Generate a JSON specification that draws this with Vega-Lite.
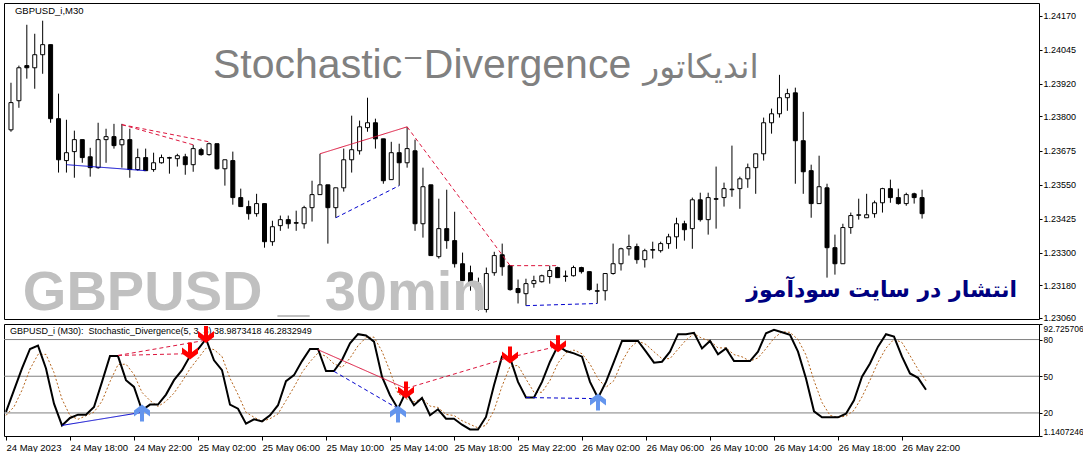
{
  "$schema": "https://vega.github.io/schema/vega-lite/v6.json",
  "background": "white",
  "padding": {"left": 1, "top": 2, "right": 0, "bottom": 0},
  "bounds": "flush",
  "spacing": 5,
  "config": {
    "view": {"stroke": "black", "strokeWidth": 1},
    "axis": {"labelFont": "Liberation Sans", "labelColor": "black", "tickColor": "black", "domain": false, "grid": false, "labelOverlap": false}
  },
  "datasets": {
    "candles": [
      {"t":"2023-05-24T14:00","o":1.23751,"h":1.23924,"l":1.23744,"c":1.23851,"k":20.8,"d":18},
      {"t":"2023-05-24T14:30","o":1.23858,"h":1.23987,"l":1.23832,"c":1.23979,"k":38.6,"d":25},
      {"t":"2023-05-24T15:00","o":1.23987,"h":1.24137,"l":1.23939,"c":1.23979,"k":56.4,"d":38.6},
      {"t":"2023-05-24T15:30","o":1.23979,"h":1.24104,"l":1.23902,"c":1.24027,"k":72.3,"d":55.8},
      {"t":"2023-05-24T16:00","o":1.24027,"h":1.24152,"l":1.23957,"c":1.24064,"k":75,"d":67.9},
      {"t":"2023-05-24T16:30","o":1.24064,"h":1.24064,"l":1.23777,"c":1.23792,"k":56.4,"d":67.9},
      {"t":"2023-05-24T17:00","o":1.23792,"h":1.23884,"l":1.23594,"c":1.23641,"k":27.6,"d":53},
      {"t":"2023-05-24T17:30","o":1.23638,"h":1.23788,"l":1.23594,"c":1.23667,"k":9.8,"d":31.3},
      {"t":"2023-05-24T18:00","o":1.23671,"h":1.23748,"l":1.23575,"c":1.23715,"k":15.9,"d":17.8},
      {"t":"2023-05-24T18:30","o":1.23715,"h":1.23715,"l":1.2363,"c":1.23649,"k":18.6,"d":14.8},
      {"t":"2023-05-24T19:00","o":1.23652,"h":1.23685,"l":1.23579,"c":1.23612,"k":18.6,"d":17.7},
      {"t":"2023-05-24T19:30","o":1.23612,"h":1.23777,"l":1.23608,"c":1.23715,"k":24.9,"d":20.7},
      {"t":"2023-05-24T20:00","o":1.23715,"h":1.23755,"l":1.2363,"c":1.23726,"k":45.4,"d":29.6},
      {"t":"2023-05-24T20:30","o":1.23726,"h":1.23773,"l":1.23682,"c":1.23693,"k":66.5,"d":45.6},
      {"t":"2023-05-24T21:00","o":1.23696,"h":1.23773,"l":1.23612,"c":1.23715,"k":66.5,"d":59.5},
      {"t":"2023-05-24T21:30","o":1.23715,"h":1.23755,"l":1.23575,"c":1.23605,"k":46.8,"d":59.9},
      {"t":"2023-05-24T22:00","o":1.23605,"h":1.23682,"l":1.23601,"c":1.23649,"k":41.3,"d":51.5},
      {"t":"2023-05-24T22:30","o":1.23649,"h":1.23682,"l":1.23601,"c":1.23601,"k":22.2,"d":36.8},
      {"t":"2023-05-24T23:00","o":1.23605,"h":1.23667,"l":1.23597,"c":1.2363,"k":26.8,"d":30.1},
      {"t":"2023-05-24T23:30","o":1.2363,"h":1.2366,"l":1.23627,"c":1.23649,"k":26.8,"d":25.3},
      {"t":"2023-05-25T00:00","o":1.23649,"h":1.23652,"l":1.2359,"c":1.23647,"k":35,"d":29.5},
      {"t":"2023-05-25T00:30","o":1.23645,"h":1.23663,"l":1.23616,"c":1.23656,"k":46.8,"d":36.2},
      {"t":"2023-05-25T01:00","o":1.23652,"h":1.23663,"l":1.23586,"c":1.23623,"k":55,"d":45.6},
      {"t":"2023-05-25T01:30","o":1.23623,"h":1.23696,"l":1.23597,"c":1.23682,"k":66.5,"d":56.1},
      {"t":"2023-05-25T02:00","o":1.23678,"h":1.23685,"l":1.23656,"c":1.2366,"k":72,"d":64.5},
      {"t":"2023-05-25T02:30","o":1.2366,"h":1.23704,"l":1.23656,"c":1.237,"k":80.5,"d":73},
      {"t":"2023-05-25T03:00","o":1.237,"h":1.237,"l":1.23605,"c":1.23608,"k":63,"d":71.8},
      {"t":"2023-05-25T03:30","o":1.23608,"h":1.23641,"l":1.23546,"c":1.23641,"k":55,"d":66.2},
      {"t":"2023-05-25T04:00","o":1.23638,"h":1.23671,"l":1.23476,"c":1.23502,"k":26.8,"d":48.3},
      {"t":"2023-05-25T04:30","o":1.23502,"h":1.23535,"l":1.23469,"c":1.23469,"k":23.5,"d":35.1},
      {"t":"2023-05-25T05:00","o":1.23469,"h":1.23491,"l":1.23421,"c":1.23443,"k":11.2,"d":20.5},
      {"t":"2023-05-25T05:30","o":1.23443,"h":1.23516,"l":1.23432,"c":1.2348,"k":14.8,"d":16.5},
      {"t":"2023-05-25T06:00","o":1.2348,"h":1.2348,"l":1.23318,"c":1.2334,"k":13.1,"d":13},
      {"t":"2023-05-25T06:30","o":1.2334,"h":1.23417,"l":1.23325,"c":1.23395,"k":18.1,"d":15.3},
      {"t":"2023-05-25T07:00","o":1.23399,"h":1.23436,"l":1.2338,"c":1.23421,"k":26.3,"d":19.2},
      {"t":"2023-05-25T07:30","o":1.23421,"h":1.23436,"l":1.23388,"c":1.23406,"k":46,"d":30.1},
      {"t":"2023-05-25T08:00","o":1.2341,"h":1.23454,"l":1.2338,"c":1.23408,"k":50.9,"d":41.1},
      {"t":"2023-05-25T08:30","o":1.23406,"h":1.23472,"l":1.23388,"c":1.23465,"k":62.4,"d":53.1},
      {"t":"2023-05-25T09:00","o":1.23465,"h":1.23564,"l":1.23414,"c":1.23513,"k":72.3,"d":61.9},
      {"t":"2023-05-25T09:30","o":1.23513,"h":1.23663,"l":1.23513,"c":1.23549,"k":72.3,"d":69},
      {"t":"2023-05-25T10:00","o":1.23549,"h":1.23549,"l":1.23333,"c":1.23465,"k":54.2,"d":66.3},
      {"t":"2023-05-25T10:30","o":1.23465,"h":1.23538,"l":1.23428,"c":1.23538,"k":54.2,"d":60.2},
      {"t":"2023-05-25T11:00","o":1.23538,"h":1.23682,"l":1.23524,"c":1.23641,"k":63.3,"d":57.2},
      {"t":"2023-05-25T11:30","o":1.23641,"h":1.23803,"l":1.23594,"c":1.23678,"k":77,"d":64.8},
      {"t":"2023-05-25T12:00","o":1.23674,"h":1.23785,"l":1.2366,"c":1.23762,"k":84.4,"d":74.9},
      {"t":"2023-05-25T12:30","o":1.23759,"h":1.23869,"l":1.23744,"c":1.23777,"k":83.3,"d":81.6},
      {"t":"2023-05-25T13:00","o":1.23777,"h":1.23792,"l":1.23682,"c":1.23718,"k":78.3,"d":82},
      {"t":"2023-05-25T13:30","o":1.23718,"h":1.23718,"l":1.23553,"c":1.23564,"k":49.6,"d":70.4},
      {"t":"2023-05-25T14:00","o":1.23568,"h":1.23707,"l":1.23568,"c":1.23667,"k":34.5,"d":54.1},
      {"t":"2023-05-25T14:30","o":1.23667,"h":1.237,"l":1.23546,"c":1.2363,"k":23.5,"d":35.9},
      {"t":"2023-05-25T15:00","o":1.2363,"h":1.23762,"l":1.23612,"c":1.23682,"k":37.2,"d":31.7},
      {"t":"2023-05-25T15:30","o":1.23674,"h":1.23715,"l":1.2338,"c":1.23406,"k":26.3,"d":29},
      {"t":"2023-05-25T16:00","o":1.23406,"h":1.23612,"l":1.23355,"c":1.23542,"k":32.3,"d":31.9},
      {"t":"2023-05-25T16:30","o":1.23549,"h":1.23549,"l":1.23289,"c":1.23289,"k":18.1,"d":25.6},
      {"t":"2023-05-25T17:00","o":1.23285,"h":1.23498,"l":1.23278,"c":1.23388,"k":23,"d":24.5},
      {"t":"2023-05-25T17:30","o":1.23388,"h":1.23531,"l":1.23314,"c":1.23344,"k":15.3,"d":18.8},
      {"t":"2023-05-25T18:00","o":1.23344,"h":1.2345,"l":1.23245,"c":1.23259,"k":15.3,"d":17.9},
      {"t":"2023-05-25T18:30","o":1.23259,"h":1.233,"l":1.23179,"c":1.23197,"k":10.4,"d":13.7},
      {"t":"2023-05-25T19:00","o":1.23226,"h":1.23252,"l":1.2316,"c":1.23186,"k":6.5,"d":10.7},
      {"t":"2023-05-25T19:30","o":1.23186,"h":1.23208,"l":1.23087,"c":1.23094,"k":6.5,"d":7.8},
      {"t":"2023-05-25T20:00","o":1.23091,"h":1.23245,"l":1.2308,"c":1.23223,"k":16.7,"d":9.9},
      {"t":"2023-05-25T20:30","o":1.23226,"h":1.23303,"l":1.23215,"c":1.23289,"k":42.7,"d":22},
      {"t":"2023-05-25T21:00","o":1.23292,"h":1.23333,"l":1.23215,"c":1.23248,"k":66,"d":41.8},
      {"t":"2023-05-25T21:30","o":1.23252,"h":1.23252,"l":1.2316,"c":1.23164,"k":65.2,"d":58},
      {"t":"2023-05-25T22:00","o":1.23168,"h":1.23201,"l":1.23113,"c":1.23153,"k":45.4,"d":58.9},
      {"t":"2023-05-25T22:30","o":1.23149,"h":1.23204,"l":1.23105,"c":1.23186,"k":32.6,"d":47.7},
      {"t":"2023-05-25T23:00","o":1.23186,"h":1.23215,"l":1.23171,"c":1.23197,"k":32.6,"d":36.9},
      {"t":"2023-05-25T23:30","o":1.23193,"h":1.23219,"l":1.2319,"c":1.23215,"k":45.4,"d":36.9},
      {"t":"2023-05-26T00:00","o":1.23212,"h":1.23252,"l":1.23186,"c":1.23234,"k":61.9,"d":46.6},
      {"t":"2023-05-26T00:30","o":1.23245,"h":1.23248,"l":1.23208,"c":1.23208,"k":75,"d":60.8},
      {"t":"2023-05-26T01:00","o":1.23214,"h":1.23234,"l":1.23193,"c":1.23212,"k":70.6,"d":69.2},
      {"t":"2023-05-26T01:30","o":1.23215,"h":1.23252,"l":1.23212,"c":1.23245,"k":68.7,"d":71.4},
      {"t":"2023-05-26T02:00","o":1.23245,"h":1.23248,"l":1.23223,"c":1.2323,"k":66,"d":68.4},
      {"t":"2023-05-26T02:30","o":1.2323,"h":1.2323,"l":1.2316,"c":1.23164,"k":45.4,"d":60},
      {"t":"2023-05-26T03:00","o":1.2316,"h":1.23186,"l":1.23113,"c":1.23158,"k":32.3,"d":47.9},
      {"t":"2023-05-26T03:30","o":1.2316,"h":1.23223,"l":1.23124,"c":1.23223,"k":45.4,"d":41},
      {"t":"2023-05-26T04:00","o":1.23223,"h":1.23333,"l":1.23219,"c":1.23259,"k":61.9,"d":46.5},
      {"t":"2023-05-26T04:30","o":1.23259,"h":1.23318,"l":1.23234,"c":1.23314,"k":78.9,"d":62.1},
      {"t":"2023-05-26T05:00","o":1.23314,"h":1.23366,"l":1.23289,"c":1.23322,"k":78.9,"d":73.2},
      {"t":"2023-05-26T05:30","o":1.23322,"h":1.23333,"l":1.23259,"c":1.23274,"k":78.9,"d":78.9},
      {"t":"2023-05-26T06:00","o":1.23274,"h":1.23314,"l":1.23245,"c":1.23307,"k":70.1,"d":76},
      {"t":"2023-05-26T06:30","o":1.23311,"h":1.2334,"l":1.23278,"c":1.23309,"k":61.1,"d":70},
      {"t":"2023-05-26T07:00","o":1.23307,"h":1.2334,"l":1.233,"c":1.23333,"k":61.9,"d":64.4},
      {"t":"2023-05-26T07:30","o":1.23333,"h":1.23369,"l":1.23314,"c":1.23358,"k":70.1,"d":64.4},
      {"t":"2023-05-26T08:00","o":1.23358,"h":1.23428,"l":1.23314,"c":1.23406,"k":84.4,"d":72.1},
      {"t":"2023-05-26T08:30","o":1.23406,"h":1.23417,"l":1.23344,"c":1.23384,"k":84.4,"d":79.6},
      {"t":"2023-05-26T09:00","o":1.23388,"h":1.23502,"l":1.23314,"c":1.23494,"k":85.5,"d":84.8},
      {"t":"2023-05-26T09:30","o":1.23494,"h":1.2352,"l":1.23414,"c":1.23421,"k":72.8,"d":80.9},
      {"t":"2023-05-26T10:00","o":1.23421,"h":1.2352,"l":1.23366,"c":1.23502,"k":78.9,"d":79.1},
      {"t":"2023-05-26T10:30","o":1.23498,"h":1.23616,"l":1.23388,"c":1.23496,"k":67.9,"d":73.2},
      {"t":"2023-05-26T11:00","o":1.23502,"h":1.23557,"l":1.23469,"c":1.23535,"k":72.8,"d":73.2},
      {"t":"2023-05-26T11:30","o":1.23531,"h":1.23693,"l":1.23505,"c":1.23533,"k":62.4,"d":67.7},
      {"t":"2023-05-26T12:00","o":1.23535,"h":1.23579,"l":1.23461,"c":1.23571,"k":62.4,"d":65.9},
      {"t":"2023-05-26T12:30","o":1.23571,"h":1.23627,"l":1.23538,"c":1.23612,"k":62.4,"d":62.4},
      {"t":"2023-05-26T13:00","o":1.23612,"h":1.23663,"l":1.23516,"c":1.23663,"k":70.1,"d":65},
      {"t":"2023-05-26T13:30","o":1.23663,"h":1.23796,"l":1.23638,"c":1.23777,"k":85.2,"d":72.6},
      {"t":"2023-05-26T14:00","o":1.23777,"h":1.23829,"l":1.23737,"c":1.2381,"k":87.9,"d":81.1},
      {"t":"2023-05-26T14:30","o":1.2381,"h":1.23953,"l":1.23796,"c":1.23869,"k":86,"d":86.4},
      {"t":"2023-05-26T15:00","o":1.23869,"h":1.23902,"l":1.23821,"c":1.23884,"k":83.8,"d":85.9},
      {"t":"2023-05-26T15:30","o":1.23887,"h":1.23906,"l":1.23553,"c":1.23711,"k":70.1,"d":80},
      {"t":"2023-05-26T16:00","o":1.23711,"h":1.23817,"l":1.23516,"c":1.23597,"k":48.2,"d":67.4},
      {"t":"2023-05-26T16:30","o":1.23601,"h":1.23623,"l":1.23428,"c":1.2348,"k":21.3,"d":46.5},
      {"t":"2023-05-26T17:00","o":1.2348,"h":1.23656,"l":1.2348,"c":1.23542,"k":16.4,"d":28.6},
      {"t":"2023-05-26T17:30","o":1.23538,"h":1.23553,"l":1.23208,"c":1.23318,"k":16.4,"d":18},
      {"t":"2023-05-26T18:00","o":1.23318,"h":1.23366,"l":1.23219,"c":1.23259,"k":16.4,"d":16.4},
      {"t":"2023-05-26T18:30","o":1.23259,"h":1.23406,"l":1.23259,"c":1.23392,"k":19.4,"d":17.4},
      {"t":"2023-05-26T19:00","o":1.23392,"h":1.23447,"l":1.23369,"c":1.23436,"k":30.4,"d":22.1},
      {"t":"2023-05-26T19:30","o":1.23437,"h":1.23498,"l":1.23421,"c":1.23439,"k":49.6,"d":33.1},
      {"t":"2023-05-26T20:00","o":1.23428,"h":1.23516,"l":1.23428,"c":1.23439,"k":60.5,"d":46.8},
      {"t":"2023-05-26T20:30","o":1.23443,"h":1.23491,"l":1.23428,"c":1.23483,"k":74.2,"d":61.4},
      {"t":"2023-05-26T21:00","o":1.23483,"h":1.23538,"l":1.23447,"c":1.23535,"k":84.4,"d":73},
      {"t":"2023-05-26T21:30","o":1.23535,"h":1.23568,"l":1.23483,"c":1.23502,"k":82.4,"d":80.3},
      {"t":"2023-05-26T22:00","o":1.23502,"h":1.23535,"l":1.23476,"c":1.2348,"k":66,"d":77.6},
      {"t":"2023-05-26T22:30","o":1.2348,"h":1.2352,"l":1.23472,"c":1.23513,"k":52.3,"d":66.9},
      {"t":"2023-05-26T23:00","o":1.23516,"h":1.2352,"l":1.2348,"c":1.23502,"k":48.7,"d":55.7},
      {"t":"2023-05-26T23:30","o":1.23502,"h":1.23531,"l":1.23425,"c":1.23443,"k":39,"d":46.3}
    ],
    "priceDiv": [
      {"id":"m1","side":"bull","kind":"regular","t":"2023-05-24T17:30","p":1.23623},
      {"id":"m1","side":"bull","kind":"regular","t":"2023-05-24T22:30","p":1.23601},
      {"id":"m2","side":"bear","kind":"hidden","t":"2023-05-24T21:00","p":1.2377},
      {"id":"m2","side":"bear","kind":"hidden","t":"2023-05-25T01:30","p":1.23696},
      {"id":"m3","side":"bear","kind":"hidden","t":"2023-05-24T21:00","p":1.2377},
      {"id":"m3","side":"bear","kind":"hidden","t":"2023-05-25T02:30","p":1.23707},
      {"id":"m4","side":"bear","kind":"regular","t":"2023-05-25T09:30","p":1.23663},
      {"id":"m4","side":"bear","kind":"regular","t":"2023-05-25T15:00","p":1.23762},
      {"id":"m5","side":"bull","kind":"hidden","t":"2023-05-25T10:30","p":1.23428},
      {"id":"m5","side":"bull","kind":"hidden","t":"2023-05-25T14:30","p":1.23546},
      {"id":"m6","side":"bear","kind":"hidden","t":"2023-05-25T15:00","p":1.23762},
      {"id":"m6","side":"bear","kind":"hidden","t":"2023-05-25T21:30","p":1.23252},
      {"id":"m7","side":"bear","kind":"hidden","t":"2023-05-25T21:30","p":1.23252},
      {"id":"m7","side":"bear","kind":"hidden","t":"2023-05-26T00:30","p":1.23252},
      {"id":"m8","side":"bull","kind":"hidden","t":"2023-05-25T22:30","p":1.23105},
      {"id":"m8","side":"bull","kind":"hidden","t":"2023-05-26T03:00","p":1.23113}
    ],
    "stochDiv": [
      {"id":"s1","side":"bull","kind":"regular","t":"2023-05-24T17:30","v":9.8},
      {"id":"s1","side":"bull","kind":"regular","t":"2023-05-24T22:30","v":20.5},
      {"id":"s2","side":"bear","kind":"hidden","t":"2023-05-24T21:00","v":67},
      {"id":"s2","side":"bear","kind":"hidden","t":"2023-05-25T01:30","v":68.5},
      {"id":"s3","side":"bear","kind":"hidden","t":"2023-05-24T21:00","v":67},
      {"id":"s3","side":"bear","kind":"hidden","t":"2023-05-25T02:30","v":79.5},
      {"id":"s4","side":"bear","kind":"regular","t":"2023-05-25T09:30","v":71.7},
      {"id":"s4","side":"bear","kind":"regular","t":"2023-05-25T15:00","v":40},
      {"id":"s5","side":"bull","kind":"hidden","t":"2023-05-25T10:30","v":54},
      {"id":"s5","side":"bull","kind":"hidden","t":"2023-05-25T14:30","v":23.5},
      {"id":"s6","side":"bear","kind":"hidden","t":"2023-05-25T15:00","v":40},
      {"id":"s6","side":"bear","kind":"hidden","t":"2023-05-25T21:30","v":65.5},
      {"id":"s7","side":"bear","kind":"hidden","t":"2023-05-25T21:30","v":65.5},
      {"id":"s7","side":"bear","kind":"hidden","t":"2023-05-26T00:30","v":74.5},
      {"id":"s8","side":"bull","kind":"hidden","t":"2023-05-25T22:30","v":32.6},
      {"id":"s8","side":"bull","kind":"hidden","t":"2023-05-26T03:00","v":31.7}
    ],
    "arrows": [
      {"t":"2023-05-24T22:30","v":26.8,"side":"bull"},
      {"t":"2023-05-25T01:30","v":63.7,"side":"bear"},
      {"t":"2023-05-25T02:30","v":77.2,"side":"bear"},
      {"t":"2023-05-25T14:30","v":26,"side":"bull"},
      {"t":"2023-05-25T15:00","v":31.8,"side":"bear"},
      {"t":"2023-05-25T21:30","v":60.5,"side":"bear"},
      {"t":"2023-05-26T00:30","v":69.6,"side":"bear"},
      {"t":"2023-05-26T03:00","v":35.9,"side":"bull"}
    ],
    "levels": [{"lvl":20},{"lvl":50},{"lvl":80}],
    "one": [{}]
  },
  "vconcat": [
    {
      "width": 1035,
      "height": 316,
      "layer": [
        {
          "data": {"name": "candles"},
          "mark": {"type": "rule", "color": "black", "strokeWidth": 1},
          "encoding": {
            "x": {"field": "t", "type": "temporal", "axis": null, "title": null,
                  "scale": {"domain": [{"year":2023,"month":5,"date":24,"hours":13,"minutes":52,"seconds":30},{"year":2023,"month":5,"date":27,"hours":6,"minutes":33,"seconds":45}]}},
            "y": {"field": "l", "type": "quantitative", "title": null,
                  "scale": {"domain": [1.23056, 1.24217], "zero": false, "nice": false},
                  "axis": {"orient": "right", "values": [1.2417, 1.24045, 1.2392, 1.238, 1.23675, 1.2355, 1.23425, 1.233, 1.2318, 1.2306],
                           "tickCount": 50, "format": ".5f", "labelFontSize": 9, "tickSize": 3, "labelPadding": 1, "labelOverlap": false}},
            "y2": {"field": "h"}
          }
        },
        {
          "data": {"name": "candles"},
          "mark": {"type": "bar", "width": 4, "stroke": "black", "strokeWidth": 1},
          "encoding": {
            "x": {"field": "t", "type": "temporal", "axis": null, "title": null},
            "y": {"field": "o", "type": "quantitative", "title": null},
            "y2": {"field": "c"},
            "fill": {"condition": {"test": "datum.c < datum.o", "value": "black"}, "value": "white"}
          }
        },
        {
          "data": {"name": "priceDiv"},
          "mark": {"type": "line", "strokeWidth": 1},
          "encoding": {
            "x": {"field": "t", "type": "temporal", "axis": null, "title": null},
            "y": {"field": "p", "type": "quantitative", "title": null},
            "detail": {"field": "id"},
            "stroke": {"field": "side", "type": "nominal", "legend": null, "scale": {"domain": ["bear", "bull"], "range": ["#dc143c", "#0000cd"]}},
            "strokeDash": {"field": "kind", "type": "nominal", "legend": null, "scale": {"domain": ["regular", "hidden"], "range": [[1, 0], [4, 3]]}}
          }
        },
        {
          "data": {"name": "one"},
          "mark": {"type": "text", "text": "GBPUSD_i,M30", "align": "left", "baseline": "middle", "font": "Liberation Sans", "fontSize": 9.5, "color": "black"},
          "encoding": {
            "x": {"datum": {"year":2023,"month":5,"date":24,"hours":14,"minutes":15}, "type": "temporal", "axis": null},
            "y": {"datum": 1.24188, "type": "quantitative"}
          }
        },
        {
          "data": {"name": "one"},
          "mark": {"type": "text", "text": "Stochastic⁻Divergence", "align": "left", "baseline": "alphabetic", "font": "Liberation Sans, DejaVu Sans", "fontSize": 41, "color": "#808080"},
          "encoding": {
            "x": {"datum": {"year":2023,"month":5,"date":25,"hours":2,"minutes":45}, "type": "temporal", "axis": null},
            "y": {"datum": 1.23942, "type": "quantitative"}
          }
        },
        {
          "data": {"name": "one"},
          "mark": {"type": "text", "text": "اندیکاتور", "align": "right", "baseline": "alphabetic", "font": "DejaVu Sans", "fontSize": 33, "color": "#808080"},
          "encoding": {
            "x": {"datum": {"year":2023,"month":5,"date":26,"hours":13,"minutes":11,"seconds":15}, "type": "temporal", "axis": null},
            "y": {"datum": 1.23942, "type": "quantitative"}
          }
        },
        {
          "data": {"name": "one"},
          "mark": {"type": "text", "text": "GBPUSD _ 30min", "align": "left", "baseline": "alphabetic", "font": "Liberation Sans", "fontWeight": "bold", "fontSize": 56, "color": "#c0c0c0"},
          "encoding": {
            "x": {"datum": {"year":2023,"month":5,"date":24,"hours":14,"minutes":45}, "type": "temporal", "axis": null},
            "y": {"datum": 1.2309, "type": "quantitative"}
          }
        },
        {
          "data": {"name": "one"},
          "mark": {"type": "text", "text": "انتشار در سایت سودآموز", "align": "right", "baseline": "alphabetic", "font": "DejaVu Sans", "fontWeight": "bold", "fontSize": 22, "color": "#000080"},
          "encoding": {
            "x": {"datum": {"year":2023,"month":5,"date":27,"hours":5,"minutes":30}, "type": "temporal", "axis": null},
            "y": {"datum": 1.23138, "type": "quantitative"}
          }
        }
      ]
    },
    {
      "width": 1035,
      "height": 112,
      "layer": [
        {
          "data": {"name": "levels"},
          "mark": {"type": "rule", "color": "#808080", "strokeWidth": 1},
          "encoding": {
            "y": {"field": "lvl", "type": "quantitative", "title": null,
                  "scale": {"domain": [1.1407246, 92.725706], "zero": false, "nice": false},
                  "axis": {"orient": "right", "values": [1.1407246, 20, 50, 80, 92.725706], "tickCount": 50, "labelExpr": "'' + datum.value",
                           "labelFlush": true, "labelFontSize": 8.5, "tickSize": 3, "labelPadding": 1, "labelOverlap": false}}
          }
        },
        {
          "data": {"name": "candles"},
          "mark": {"type": "line", "color": "#b5651d", "strokeWidth": 1, "strokeDash": [2, 2]},
          "encoding": {
            "x": {"field": "t", "type": "temporal", "title": null,
                  "scale": {"domain": [{"year":2023,"month":5,"date":24,"hours":13,"minutes":52,"seconds":30},{"year":2023,"month":5,"date":27,"hours":6,"minutes":33,"seconds":45}]},
                  "axis": {"values": [
                    {"year":2023,"month":5,"date":24,"hours":14},{"year":2023,"month":5,"date":24,"hours":18},{"year":2023,"month":5,"date":24,"hours":22},
                    {"year":2023,"month":5,"date":25,"hours":2},{"year":2023,"month":5,"date":25,"hours":6},{"year":2023,"month":5,"date":25,"hours":10},
                    {"year":2023,"month":5,"date":25,"hours":14},{"year":2023,"month":5,"date":25,"hours":18},{"year":2023,"month":5,"date":25,"hours":22},
                    {"year":2023,"month":5,"date":26,"hours":2},{"year":2023,"month":5,"date":26,"hours":6},{"year":2023,"month":5,"date":26,"hours":10},
                    {"year":2023,"month":5,"date":26,"hours":14},{"year":2023,"month":5,"date":26,"hours":18},{"year":2023,"month":5,"date":26,"hours":22}],
                    "tickCount": 50,
                    "labelExpr": "timeFormat(datum.value, '%d %b %H:%M') == '24 May 14:00' ? '24 May 2023' : timeFormat(datum.value, '%d %b %H:%M')",
                    "labelAlign": "left", "labelFlush": false, "labelFontSize": 9.5, "tickSize": 4, "labelPadding": 2, "labelOverlap": false}},
            "y": {"field": "d", "type": "quantitative", "title": null}
          }
        },
        {
          "data": {"name": "candles"},
          "mark": {"type": "line", "color": "black", "strokeWidth": 2},
          "encoding": {
            "x": {"field": "t", "type": "temporal", "title": null},
            "y": {"field": "k", "type": "quantitative", "title": null}
          }
        },
        {
          "data": {"name": "stochDiv"},
          "mark": {"type": "line", "strokeWidth": 1},
          "encoding": {
            "x": {"field": "t", "type": "temporal", "title": null},
            "y": {"field": "v", "type": "quantitative", "title": null},
            "detail": {"field": "id"},
            "stroke": {"field": "side", "type": "nominal", "legend": null, "scale": {"domain": ["bear", "bull"], "range": ["#dc143c", "#0000cd"]}},
            "strokeDash": {"field": "kind", "type": "nominal", "legend": null, "scale": {"domain": ["regular", "hidden"], "range": [[1, 0], [4, 3]]}}
          }
        },
        {
          "data": {"name": "one"},
          "mark": {"type": "text", "text": "GBPUSD_i (M30):\u00a0 Stochastic_Divergence(5, 3, 3) 38.9873418 46.2832949", "align": "left", "baseline": "middle", "font": "Liberation Sans", "fontSize": 9, "color": "black"},
          "encoding": {
            "x": {"datum": {"year":2023,"month":5,"date":24,"hours":14,"minutes":15}, "type": "temporal"},
            "y": {"datum": 87.0, "type": "quantitative"}
          }
        },
        {
          "data": {"name": "arrows"},
          "mark": {"type": "point", "filled": true, "opacity": 1, "size": 400, "strokeWidth": 0},
          "encoding": {
            "x": {"field": "t", "type": "temporal", "title": null},
            "y": {"field": "v", "type": "quantitative", "title": null},
            "shape": {"field": "side", "type": "nominal", "legend": null,
                      "scale": {"domain": ["bear", "bull"], "range": [
                        "M-0.2,-1.7L0.2,-1.7L0.2,-0.75L0.8,-1.2L0.8,-0.6L0,0L-0.8,-0.6L-0.8,-1.2L-0.2,-0.75Z",
                        "M-0.2,1.7L0.2,1.7L0.2,0.75L0.8,1.2L0.8,0.6L0,0L-0.8,0.6L-0.8,1.2L-0.2,0.75Z"]}},
            "fill": {"field": "side", "type": "nominal", "legend": null, "scale": {"domain": ["bear", "bull"], "range": ["#ff0000", "#6495ed"]}}
          }
        }
      ]
    }
  ]
}
